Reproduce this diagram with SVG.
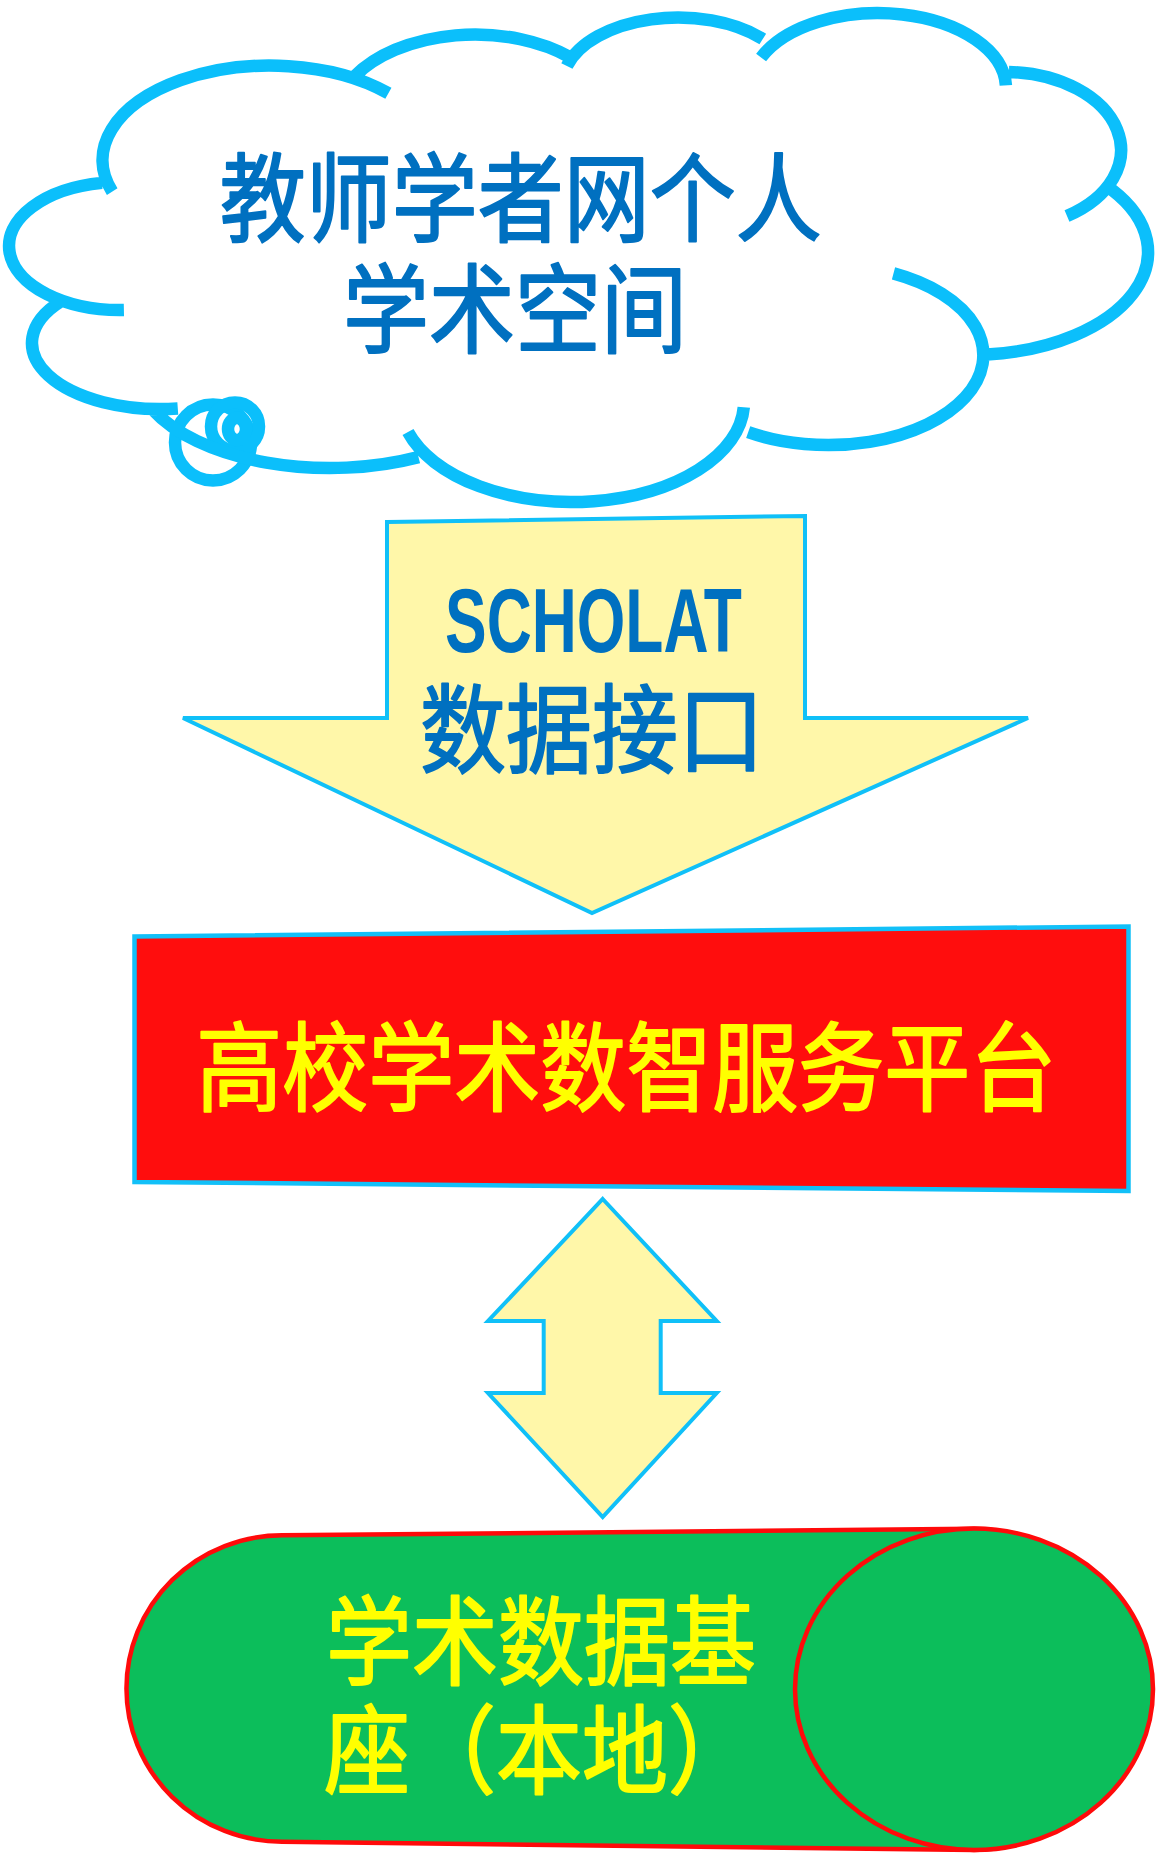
<svg xmlns="http://www.w3.org/2000/svg" width="1158" height="1856" viewBox="0 0 1158 1856">
<style>
.cl{fill:none;stroke:#0BBFFB;stroke-width:12.5;stroke-linecap:butt}
.blk{fill:#FFF7A9;stroke:#10C0F8;stroke-width:4;stroke-linejoin:miter}
.cjk{font-family:"Noto Sans CJK SC","Noto Sans CJK JP",sans-serif;font-weight:400;font-size:86px;stroke-width:1.8;stroke-linejoin:round}
.blue{fill:#0070C0;stroke:#0070C0}
.yel{fill:#FFFF00;stroke:#FFFF00}
.cyl{fill:#0CBE5B;stroke:#FF0A0A;stroke-width:4.5}
</style>
<rect width="1158" height="1856" fill="#FFFFFF"/>

<g id="cloud">
  <circle class="cl" cx="213" cy="442.5" r="38"/>
  <circle class="cl" cx="235" cy="426.5" r="24"/>
  <ellipse class="cl" cx="237" cy="429" rx="9" ry="11"/>
  <path class="cl" d="M112.2,191.7 A167.5,94.5 0 0 1 388.4,93.2
    M355,76 A140,85.5 0 0 1 570.5,57.5
    M566.9,66 A115.6,67 0 0 1 762.8,39
    M761.1,57.5 A128,75 0 0 1 1005.9,85.4
    M1009,72 A116,78 0 0 1 1067,215.9
    M1112.2,190 A178,103 0 0 1 987.1,354.5
    M893.5,273.4 A155,90 0 1 1 748.2,432.1
    M743.8,407.2 A172,100 0 0 1 408,432.1
    M418.5,457.1 A195,100 0 0 1 153.3,410.3
    M177.8,408.4 A128,66 0 0 1 61,301.2
    M123.9,310 A111,64 0 0 1 101.9,182.9"/>
  <text class="cjk blue" text-anchor="middle" transform="translate(520.7,234) scale(1,1.12)">教师学者网个人</text>
  <text class="cjk blue" text-anchor="middle" transform="translate(515,345) scale(1,1.12)">学术空间</text>
</g>

<g id="platform">
  <polygon points="134.5,936.5 1128.5,926.5 1128.5,1191 134.5,1182" fill="#FF0D0D" stroke="#12C0F8" stroke-width="4.5"/>
  <text class="cjk yel" text-anchor="middle" transform="translate(626.3,1102.5) scale(1,1.12)">高校学术数智服务平台</text>
</g>

<g id="database">
  <path class="cyl" d="M282,1535.3 L974,1528.7 A179,160.7 0 0 1 974,1850 L282,1841.7 A155.7,153.2 0 0 1 282,1535.3 Z"/>
  <ellipse class="cyl" cx="974" cy="1689.3" rx="179" ry="160.7"/>
  <text class="cjk yel" transform="translate(326,1677) scale(1,1.12)">学术数据基</text>
  <text class="cjk yel" transform="translate(324,1786) scale(1,1.12)">座（本地）</text>
</g>

<g id="connectors">
  <g id="scholat-api">
    <polygon class="blk" points="387,522 805,516 805,718 1028,718 592,913 183,718 387,718"/>
    <text x="445" y="652" font-family="'Liberation Sans',Arial,sans-serif" font-weight="700" font-size="91" textLength="297" lengthAdjust="spacingAndGlyphs" fill="#0070C0">SCHOLAT</text>
    <text class="cjk blue" text-anchor="middle" transform="translate(592,765) scale(1,1.12)">数据接口</text>
  </g>
  <g id="sync-arrow">
    <polygon class="blk" points="602.7,1199 716.7,1321 660.7,1321 660.7,1393 716.7,1393 602.7,1517 488,1393 543.7,1393 543.7,1321 488,1321"/>
  </g>
</g>
</svg>
